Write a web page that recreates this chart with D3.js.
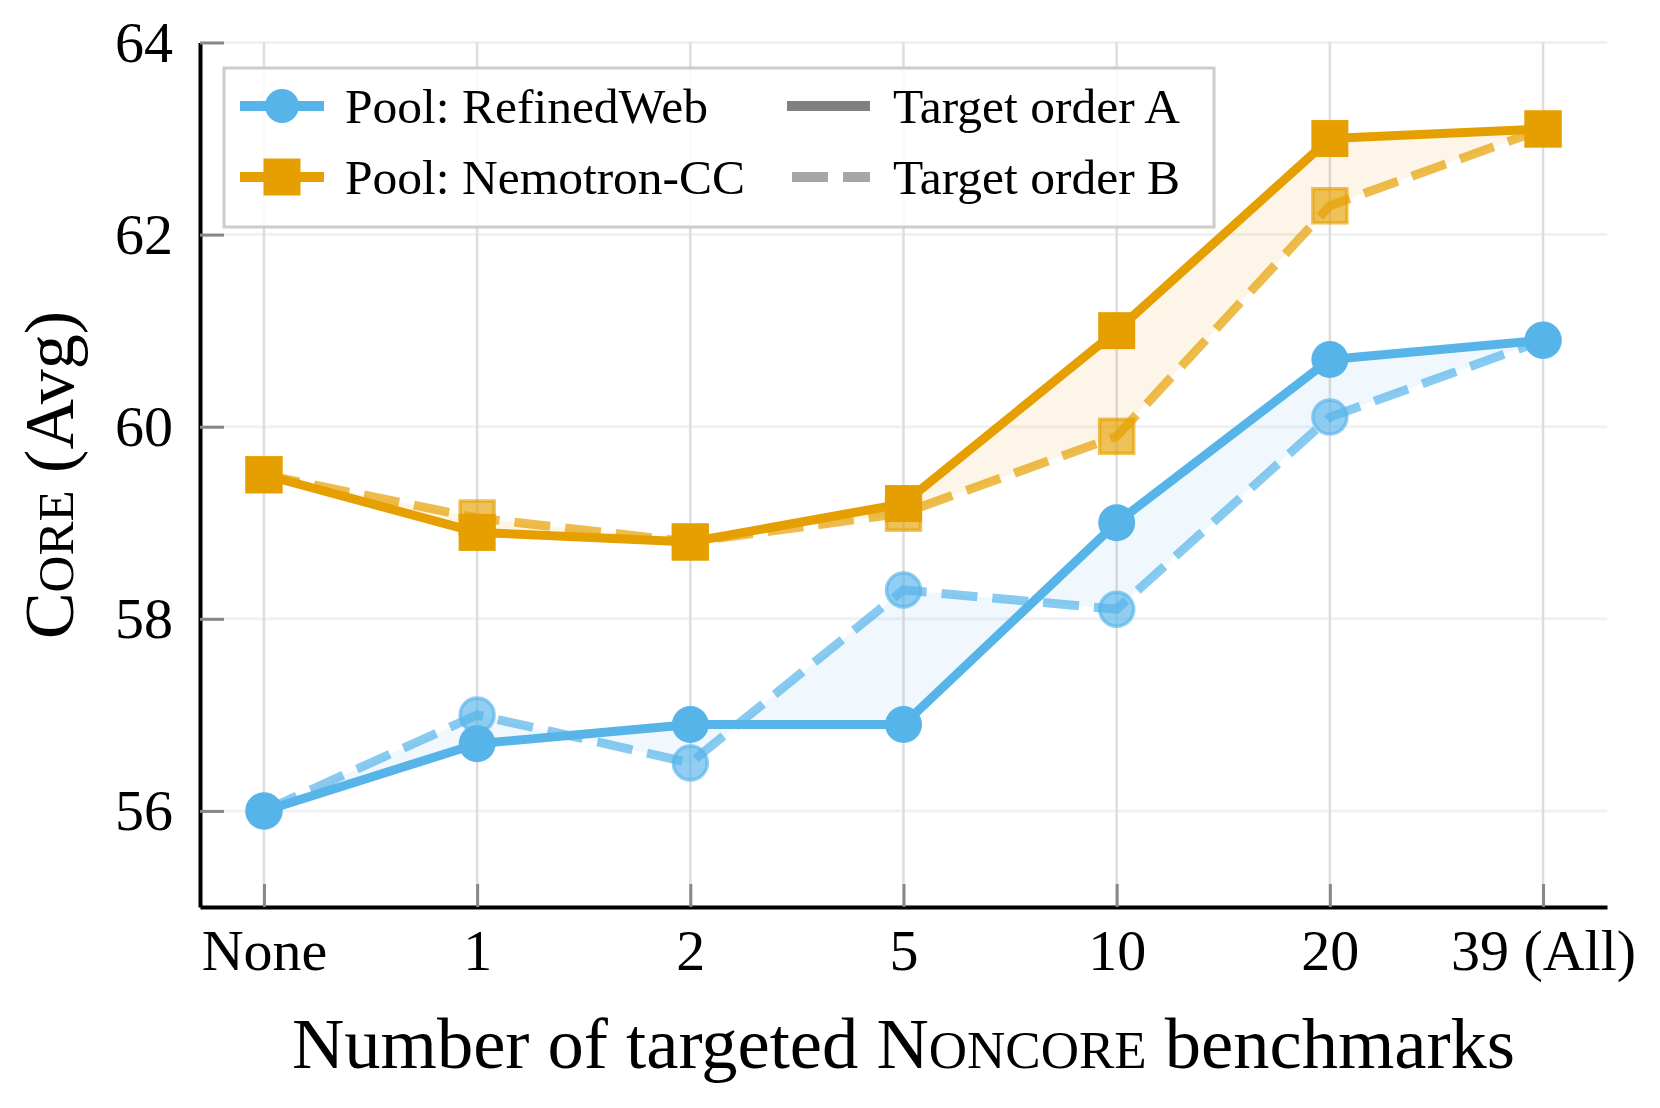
<!DOCTYPE html>
<html>
<head>
<meta charset="utf-8">
<script src="https://cdn.jsdelivr.net/npm/d3@7"></script>
<style>
  body { margin: 0; background: #fff; }
  svg text { font-family: "Liberation Serif", "DejaVu Serif", serif; fill: #000; }
</style>
</head>
<body>
<svg id="chart" width="1660" height="1108"></svg>
<script>
// values
const categories = ["None", "1", "2", "5", "10", "20", "39 (All)"];
const refinedA = [56.0, 56.7, 56.9, 56.9, 59.0, 60.7, 60.9];
const refinedB = [56.0, 57.0, 56.5, 58.3, 58.1, 60.1, 60.9];
const nemoA = [59.5, 58.9, 58.8, 59.2, 61.0, 63.0, 63.1];
const nemoB = [59.5, 59.05, 58.8, 59.1, 59.9, 62.3, 63.1];
const yTicks = [56, 58, 60, 62, 64];

const BLUE = "#56B4E9";
const ORANGE = "#E69F00";

const plotLeft = 200, plotRight = 1607, plotTop = 42.5, plotBottom = 907;

const svg = d3.select("#chart");

const x = d3.scalePoint()
    .domain(categories)
    .range([plotLeft, plotRight])
    .padding(0.3);

const y = d3.scaleLinear()
    .domain([55, 64])
    .range([plotBottom, plotTop]);

// grid
svg.append("g")
    .selectAll("line")
    .data(yTicks)
  .enter().append("line")
    .attr("x1", plotLeft).attr("x2", plotRight)
    .attr("y1", d => y(d)).attr("y2", d => y(d))
    .attr("stroke", "#f1f1f1")
    .attr("stroke-width", 3);

svg.append("g")
    .selectAll("line")
    .data(categories)
  .enter().append("line")
    .attr("x1", d => x(d)).attr("x2", d => x(d))
    .attr("y1", plotTop).attr("y2", plotBottom)
    .attr("stroke", "#dddddd")
    .attr("stroke-width", 2.5);

// axes, ticks point inward
const xAxis = svg.append("g")
    .attr("transform", "translate(0," + plotBottom + ")")
    .call(d3.axisBottom(x).tickSizeInner(-23).tickSizeOuter(0).tickPadding(22));

const yAxis = svg.append("g")
    .attr("transform", "translate(" + plotLeft + ",0)")
    .call(d3.axisLeft(y).tickValues(yTicks).tickSizeInner(-24).tickSizeOuter(0).tickPadding(27));

[xAxis, yAxis].forEach(function(g) {
    g.select(".domain").attr("stroke", "#000").attr("stroke-width", 4);
    g.selectAll(".tick line").attr("stroke", "#888").attr("stroke-width", 3);
    g.selectAll(".tick text")
        .attr("font-family", "Liberation Serif, serif")
        .attr("font-size", 58)
        .attr("fill", "#000");
});

// shaded gap between order A and order B
const pools = [
    { a: refinedA, b: refinedB, color: BLUE, shape: "circle" },
    { a: nemoA, b: nemoB, color: ORANGE, shape: "square" },
];

const area = d3.area()
    .x((d, i) => x(categories[i]))
    .y0(d => y(d[0]))
    .y1(d => y(d[1]));

const line = d3.line()
    .x((d, i) => x(categories[i]))
    .y(d => y(d));

pools.forEach(function(p) {
    svg.append("path")
        .datum(d3.zip(p.a, p.b))
        .attr("d", area)
        .attr("fill", p.color)
        .attr("fill-opacity", 0.09);
});

function addMarkers(values, p, faded) {
    const g = svg.append("g");
    const sel = g.selectAll(".m")
        .data(values)
      .enter();
    let marks;
    if (p.shape === "circle") {
        marks = sel.append("circle")
            .attr("cx", (d, i) => x(categories[i]))
            .attr("cy", d => y(d))
            .attr("r", faded ? 17 : 18.5);
    } else {
        const s = faded ? 34 : 37;
        marks = sel.append("rect")
            .attr("x", (d, i) => x(categories[i]) - s / 2)
            .attr("y", d => y(d) - s / 2)
            .attr("width", s)
            .attr("height", s);
    }
    marks.attr("fill", p.color);
    if (faded) {
        marks.attr("fill-opacity", 0.65)
            .attr("stroke", p.color)
            .attr("stroke-opacity", 0.65)
            .attr("stroke-width", 3.5);
    }
}

// order B: dashed, faded
pools.forEach(function(p) {
    svg.append("path")
        .datum(p.b)
        .attr("d", line)
        .attr("fill", "none")
        .attr("stroke", p.color)
        .attr("stroke-opacity", 0.7)
        .attr("stroke-width", 9)
        .attr("stroke-dasharray", "36,15");
    addMarkers(p.b, p, true);
});

// order A: solid
pools.forEach(function(p) {
    svg.append("path")
        .datum(p.a)
        .attr("d", line)
        .attr("fill", "none")
        .attr("stroke", p.color)
        .attr("stroke-width", 9)
        .attr("stroke-linejoin", "round");
    addMarkers(p.a, p, false);
});

// legend
const legend = svg.append("g");
legend.append("rect")
    .attr("x", 224).attr("y", 68)
    .attr("width", 990).attr("height", 159)
    .attr("fill", "#fff").attr("fill-opacity", 0.85)
    .attr("stroke", "#cccccc").attr("stroke-width", 3);

const legendItems = [
    { label: "Pool: RefinedWeb", color: BLUE, shape: "circle", x: 240, y: 106 },
    { label: "Pool: Nemotron-CC", color: ORANGE, shape: "square", x: 240, y: 177 },
    { label: "Target order A", color: "#808080", dash: null, x: 787, y: 106 },
    { label: "Target order B", color: "#a6a6a6", dash: "36,15", x: 792, y: 177 },
];

legendItems.forEach(function(d) {
    const x0 = d.x, x1 = d.shape ? 324 : 870;
    legend.append("line")
        .attr("x1", x0).attr("x2", x1)
        .attr("y1", d.y).attr("y2", d.y)
        .attr("stroke", d.color)
        .attr("stroke-width", 10)
        .attr("stroke-dasharray", d.dash);
    if (d.shape === "circle") {
        legend.append("circle")
            .attr("cx", (x0 + x1) / 2).attr("cy", d.y).attr("r", 17)
            .attr("fill", d.color);
    } else if (d.shape === "square") {
        legend.append("rect")
            .attr("x", (x0 + x1) / 2 - 18.5).attr("y", d.y - 18.5)
            .attr("width", 37).attr("height", 37)
            .attr("fill", d.color);
    }
    legend.append("text")
        .attr("x", d.shape ? 345 : 893)
        .attr("y", d.y)
        .attr("dy", "0.35em")
        .attr("font-size", 49.5)
        .text(d.label);
});

// axis titles with small caps
const yTitle = svg.append("text")
    .attr("transform", "translate(73,475) rotate(-90)")
    .attr("text-anchor", "middle")
    .attr("font-size", 70);
yTitle.append("tspan").text("C");
yTitle.append("tspan").attr("font-size", 51).text("ORE");
yTitle.append("tspan").text(" (Avg)");

const xTitle = svg.append("text")
    .attr("x", (plotLeft + plotRight) / 2)
    .attr("y", 1068)
    .attr("text-anchor", "middle")
    .attr("font-size", 72.5);
xTitle.append("tspan").text("Number of targeted N");
xTitle.append("tspan").attr("font-size", 53).text("ONCORE");
xTitle.append("tspan").text(" benchmarks");
</script>
</body>
</html>
